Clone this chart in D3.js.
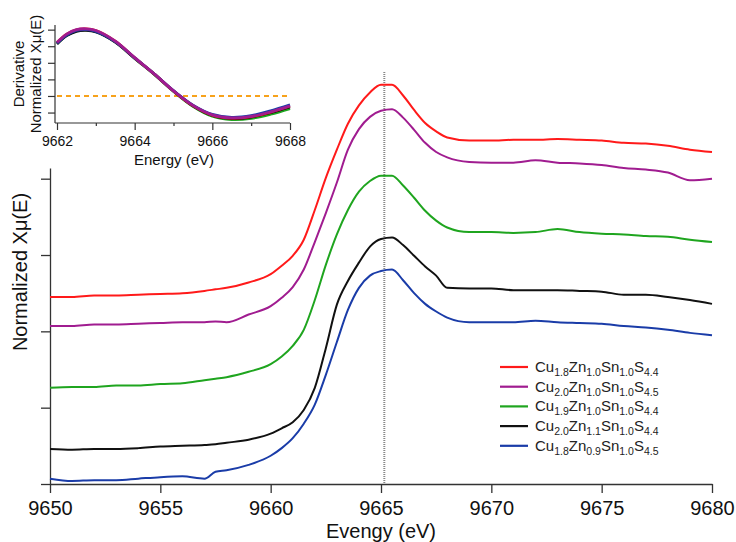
<!DOCTYPE html>
<html>
<head>
<meta charset="utf-8">
<script src="https://cdn.jsdelivr.net/npm/d3@7"></script>
<style>
  body { margin: 0; background: #fff; }
  svg { font-family: "Liberation Sans", Arial, sans-serif; }
</style>
</head>
<body>
<div id="chart"></div>
<script>
// main spectra (normalized, offset)
var energy = [9650, 9651, 9652, 9653, 9654, 9655, 9656, 9657, 9657.5, 9658, 9659, 9660, 9660.5, 9661, 9661.5, 9662, 9662.5,
  9663, 9663.5, 9664, 9664.5, 9665, 9665.5, 9666, 9666.5, 9667, 9667.5, 9668, 9669, 9670, 9671, 9672, 9673,
  9674, 9675, 9676, 9677, 9678, 9679, 9680];

var red = [2.45, 2.45, 2.47, 2.47, 2.48, 2.49, 2.50, 2.53, 2.55, 2.57, 2.64, 2.75, 2.86, 2.99, 3.20, 3.59, 4.01,
  4.38, 4.72, 4.96, 5.13, 5.23, 5.23, 5.09, 4.90, 4.73, 4.62, 4.54, 4.50, 4.50, 4.51, 4.51, 4.52,
  4.51, 4.50, 4.47, 4.46, 4.43, 4.38, 4.35];
var purple = [2.07, 2.07, 2.09, 2.09, 2.10, 2.11, 2.12, 2.12, 2.13, 2.12, 2.22, 2.33, 2.44, 2.58, 2.81, 3.17, 3.55,
  3.95, 4.38, 4.65, 4.81, 4.89, 4.91, 4.80, 4.64, 4.47, 4.35, 4.28, 4.22, 4.21, 4.21, 4.24, 4.21,
  4.20, 4.18, 4.14, 4.12, 4.08, 3.98, 4.00];
var green = [1.26, 1.27, 1.27, 1.29, 1.29, 1.31, 1.32, 1.36, 1.38, 1.40, 1.47, 1.57, 1.67, 1.81, 2.02, 2.41, 2.87,
  3.27, 3.59, 3.83, 3.97, 4.04, 4.04, 3.91, 3.75, 3.58, 3.45, 3.36, 3.30, 3.30, 3.29, 3.30, 3.34,
  3.30, 3.28, 3.27, 3.25, 3.24, 3.20, 3.17];
var black = [0.46, 0.45, 0.46, 0.46, 0.47, 0.49, 0.50, 0.51, 0.52, 0.54, 0.58, 0.66, 0.73, 0.81, 0.97, 1.26, 1.78,
  2.35, 2.66, 2.90, 3.11, 3.21, 3.23, 3.13, 2.99, 2.85, 2.73, 2.57, 2.56, 2.56, 2.54, 2.54, 2.54,
  2.53, 2.52, 2.48, 2.48, 2.45, 2.41, 2.36];
var blue = [0.07, 0.04, 0.05, 0.05, 0.07, 0.09, 0.10, 0.07, 0.16, 0.18, 0.25, 0.37, 0.47, 0.60, 0.79, 1.04, 1.43,
  1.86, 2.28, 2.57, 2.73, 2.79, 2.81, 2.67, 2.50, 2.36, 2.26, 2.18, 2.12, 2.12, 2.12, 2.14, 2.12,
  2.11, 2.10, 2.07, 2.05, 2.02, 1.98, 1.95];

var names = ["Cu|1.8|Zn|1.0|Sn|1.0|S|4.4", "Cu|2.0|Zn|1.0|Sn|1.0|S|4.5", "Cu|1.9|Zn|1.0|Sn|1.0|S|4.4",
  "Cu|2.0|Zn|1.1|Sn|1.0|S|4.4", "Cu|1.8|Zn|0.9|Sn|1.0|S|4.5"];
var colors = ["#ff1a1a", "#a01c90", "#1fa51f", "#111111", "#1a3ca8"];
var xTicks = [9650, 9655, 9660, 9665, 9670, 9675, 9680];
var yTicks = [0, 1, 2, 3, 4];
var edgeLine = 9665.15;

// inset: derivative
var dEnergy = [9662, 9662.25, 9662.5, 9662.75, 9663, 9663.5, 9664, 9664.5, 9665, 9665.5, 9666, 9666.5, 9667, 9667.5, 9668];
var dRed = [3.22, 3.72, 3.99, 4.04, 3.94, 3.30, 2.30, 1.33, 0.30, -0.58, -1.15, -1.33, -1.24, -0.97, -0.60];
var dPurple = [3.22, 3.73, 4.00, 4.05, 3.95, 3.31, 2.31, 1.34, 0.31, -0.57, -1.14, -1.32, -1.23, -0.96, -0.60];
var dGreen = [3.16, 3.66, 3.93, 3.98, 3.89, 3.26, 2.27, 1.31, 0.28, -0.62, -1.22, -1.42, -1.35, -1.10, -0.76];
var dBlack = [3.14, 3.64, 3.90, 3.95, 3.86, 3.25, 2.28, 1.33, 0.30, -0.59, -1.17, -1.36, -1.27, -1.00, -0.66];
var dBlue = [3.18, 3.68, 3.95, 4.00, 3.90, 3.28, 2.30, 1.34, 0.32, -0.55, -1.11, -1.29, -1.19, -0.90, -0.54];
var dTicksMajor = [9662, 9664, 9666, 9668];
var dTicksMinor = [9663, 9665, 9667];
var dYTicks = [-1, 0, 1, 2, 3, 4];

var W = 736, H = 542;
var svg = d3.select("#chart").append("svg").attr("width", W).attr("height", H);

var x = d3.scaleLinear().domain([9650, 9680]).range([50, 712]);
var y = d3.scaleLinear().domain([0, 4.14]).range([484, 168]);

// axes
var xAxis = d3.axisBottom(x).tickValues(xTicks).tickSize(9).tickSizeOuter(0).tickFormat(d3.format("d"));
var gx = svg.append("g").attr("transform", "translate(0," + y(0) + ")").call(xAxis);
gx.selectAll("text").attr("font-size", 20).attr("fill", "#111").attr("dy", "0.95em");
gx.selectAll("line, path").attr("stroke", "#333").attr("stroke-width", 1.3);

var yAxis = d3.axisLeft(y).tickValues(yTicks).tickSize(9).tickSizeOuter(0).tickFormat("");
var gy = svg.append("g").attr("transform", "translate(" + x(9650) + ",0)").call(yAxis);
gy.selectAll("line, path").attr("stroke", "#333").attr("stroke-width", 1.3);

svg.append("text").attr("x", x(9665)).attr("y", 538).attr("text-anchor", "middle")
  .attr("font-size", 20).attr("fill", "#111").text("Evengy (eV)");
svg.append("text").attr("transform", "translate(27,272) rotate(-90)").attr("text-anchor", "middle")
  .attr("font-size", 20).attr("fill", "#111").text("Normalized Xμ(E)");

// dotted edge line
svg.append("line").attr("x1", x(edgeLine)).attr("x2", x(edgeLine)).attr("y1", 72).attr("y2", y(0))
  .attr("stroke", "#888").attr("stroke-width", 2).attr("stroke-dasharray", "1,1");

var line = d3.line().curve(d3.curveMonotoneX).x(function(d) { return x(d[0]); }).y(function(d) { return y(d[1]); });
var series = [red, purple, green, black, blue];
series.forEach(function(s, i) {
  svg.append("path").datum(energy.map(function(e, j) { return [e, s[j]]; }))
    .attr("d", line).attr("fill", "none").attr("stroke", colors[i]).attr("stroke-width", 2)
    .attr("stroke-linejoin", "round");
});

// legend
var lg = svg.append("g");
names.forEach(function(n, i) {
  var yy = 367 + i * 19.7;
  lg.append("line").attr("x1", 500).attr("x2", 528).attr("y1", yy).attr("y2", yy)
    .attr("stroke", colors[i]).attr("stroke-width", 2.2);
  var t = lg.append("text").attr("x", 535).attr("y", yy + 5).attr("font-size", 15).attr("fill", "#222");
  n.split("|").forEach(function(p, k) {
    if (k % 2 == 0) {
      t.append("tspan").text(p).attr("font-size", 15).attr("dy", k == 0 ? 0 : -4);
    } else {
      t.append("tspan").text(p).attr("font-size", 10.5).attr("dy", 4);
    }
  });
});

// inset
var ix = d3.scaleLinear().domain([9662, 9668]).range([57, 290]);
var iy = d3.scaleLinear().domain([-1.63, 4.28]).range([123, 25]);

svg.append("line").attr("x1", 55).attr("x2", ix(9668)).attr("y1", iy(-1.63)).attr("y2", iy(-1.63))
  .attr("stroke", "#333").attr("stroke-width", 1.2);
svg.append("line").attr("x1", 55).attr("x2", 55).attr("y1", iy(-1.63)).attr("y2", iy(4.28))
  .attr("stroke", "#333").attr("stroke-width", 1.2);

var ixAxis = d3.axisBottom(ix).tickValues(dTicksMajor).tickSize(7).tickSizeOuter(0).tickFormat(d3.format("d"));
var gix = svg.append("g").attr("transform", "translate(0," + iy(-1.63) + ")").call(ixAxis);
gix.select("path").remove();
gix.selectAll("line").attr("stroke", "#333").attr("stroke-width", 1.2);
gix.selectAll("text").attr("font-size", 14).attr("fill", "#111").attr("dy", "0.9em");
var ixMinor = d3.axisBottom(ix).tickValues(dTicksMinor).tickSize(3).tickFormat("");
var gim = svg.append("g").attr("transform", "translate(0," + iy(-1.63) + ")").call(ixMinor);
gim.select("path").remove();
gim.selectAll("line").attr("stroke", "#333").attr("stroke-width", 1.2);

var iyAxis = d3.axisLeft(iy).tickValues(dYTicks).tickSize(7).tickFormat("");
var giy = svg.append("g").attr("transform", "translate(55,0)").call(iyAxis);
giy.select("path").remove();
giy.selectAll("line").attr("stroke", "#333").attr("stroke-width", 1.2);

svg.append("text").attr("x", 174).attr("y", 165).attr("text-anchor", "middle")
  .attr("font-size", 15).attr("fill", "#111").text("Energy (eV)");
svg.append("text").attr("transform", "translate(24,74) rotate(-90)").attr("text-anchor", "middle")
  .attr("font-size", 15).attr("fill", "#111").text("Derivative");
svg.append("text").attr("transform", "translate(41,74) rotate(-90)").attr("text-anchor", "middle")
  .attr("font-size", 15).attr("fill", "#111").text("Normalized Xμ(E)");

svg.append("line").attr("x1", ix(9662)).attr("x2", ix(9668)).attr("y1", iy(0)).attr("y2", iy(0))
  .attr("stroke", "#f7a21b").attr("stroke-width", 2).attr("stroke-dasharray", "5,4");

var iline = d3.line().curve(d3.curveCatmullRom).x(function(d) { return ix(d[0]); }).y(function(d) { return iy(d[1]); });
var dSeries = [[dGreen, colors[2]], [dBlack, colors[3]], [dRed, colors[0]], [dBlue, colors[4]], [dPurple, colors[1]]];
dSeries.forEach(function(s) {
  svg.append("path").datum(dEnergy.map(function(e, j) { return [e, s[0][j]]; }))
    .attr("d", iline).attr("fill", "none").attr("stroke", s[1]).attr("stroke-width", 2.8);
});
</script>
</body>
</html>
